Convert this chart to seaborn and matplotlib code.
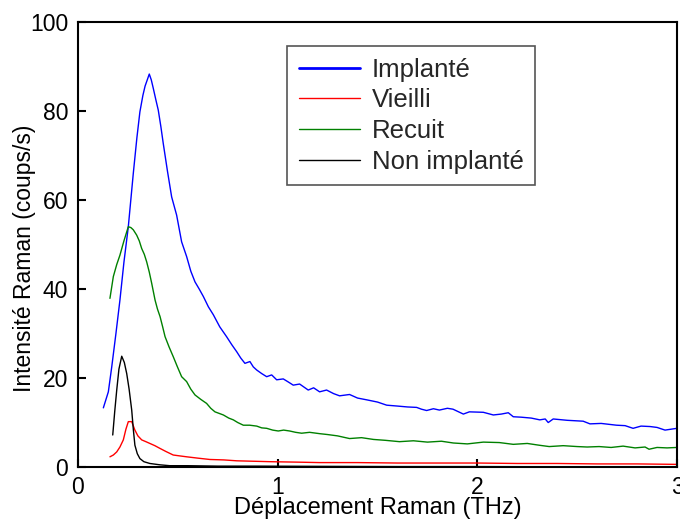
import numpy as np
import pandas as pd
import matplotlib
matplotlib.use("Agg")
import matplotlib.pyplot as plt
import seaborn as sns

# Raman spectra (THz, counts/s)
implante_x = [0.127, 0.152, 0.169, 0.19, 0.21, 0.23, 0.252, 0.277, 0.295, 0.31, 0.325, 0.336, 0.347,
              0.357, 0.367, 0.377, 0.39, 0.402, 0.415, 0.427, 0.448, 0.469, 0.494, 0.519, 0.544, 0.565,
              0.586, 0.607, 0.628, 0.653, 0.678, 0.71, 0.744, 0.77, 0.795, 0.815, 0.836, 0.861, 0.878,
              0.895, 0.92, 0.945, 0.97, 0.995, 1.028, 1.05, 1.078, 1.11, 1.153, 1.18, 1.21, 1.245, 1.28,
              1.31, 1.36, 1.40, 1.446, 1.5, 1.546, 1.6, 1.65, 1.696, 1.72, 1.746, 1.78, 1.81, 1.85, 1.878,
              1.93, 1.96, 2.03, 2.08, 2.12, 2.155, 2.18, 2.22, 2.27, 2.313, 2.34, 2.355, 2.38, 2.45, 2.53,
              2.564, 2.62, 2.697, 2.74, 2.78, 2.82, 2.865, 2.9, 2.94, 3.0]
implante_y = [13.3, 16.9, 22.5, 30, 37.5, 46, 54, 66, 74, 79.8, 83.5, 85.6, 87, 88.3, 87, 85.1, 82.5,
              80.2, 76.5, 72.7, 66.5, 60.7, 56.6, 50.6, 47.3, 44, 41.6, 40, 38.3, 36, 34.2, 31.5, 29.3,
              27.5, 25.9, 24.5, 23.3, 23.7, 22.5, 21.8, 21, 20.3, 20.7, 19.6, 19.8, 19.2, 18.4, 18.65,
              17.3, 17.8, 16.9, 17.3, 16.5, 16, 16.3, 15.5, 15.1, 14.6, 13.9, 13.7, 13.5, 13.4, 13.0,
              12.7, 13.1, 12.8, 13.2, 13.0, 11.9, 12.4, 12.3, 11.7, 11.9, 12.2, 11.3, 11.2, 11.0, 10.6,
              10.8, 10.0, 10.8, 10.5, 10.3, 9.7, 9.8, 9.4, 9.3, 8.7, 9.2, 9.1, 8.9, 8.3, 8.7]

vieilli_x = [0.16, 0.177, 0.194, 0.21, 0.227, 0.24, 0.252, 0.269, 0.285, 0.3, 0.319, 0.34, 0.36, 0.385,
             0.41, 0.44, 0.477, 0.51, 0.544, 0.6, 0.66, 0.73, 0.795, 0.88, 0.965, 1.1, 1.21, 1.4, 1.6,
             1.8, 2.0, 2.2, 2.4, 2.6, 2.8, 3.0]
vieilli_y = [2.3, 2.7, 3.4, 4.5, 6.1, 8.5, 10.2, 10.2, 8.3, 7.0, 6.1, 5.7, 5.3, 4.8, 4.2, 3.5, 2.7, 2.5,
             2.3, 2.0, 1.7, 1.6, 1.4, 1.3, 1.2, 1.1, 1.0, 1.0, 0.9, 0.9, 0.9, 0.8, 0.8, 0.7, 0.7, 0.6]

recuit_x = [0.16, 0.177, 0.194, 0.21, 0.23, 0.252, 0.265, 0.277, 0.294, 0.307, 0.319, 0.332, 0.344,
            0.357, 0.369, 0.386, 0.398, 0.411, 0.424, 0.436, 0.456, 0.477, 0.498, 0.519, 0.544, 0.565,
            0.586, 0.615, 0.644, 0.665, 0.686, 0.71, 0.728, 0.755, 0.778, 0.8, 0.828, 0.86, 0.895, 0.92,
            0.945, 0.975, 1.003, 1.03, 1.06, 1.09, 1.12, 1.16, 1.21, 1.25, 1.3, 1.36, 1.42, 1.48, 1.54,
            1.61, 1.68, 1.75, 1.82, 1.88, 1.95, 2.03, 2.11, 2.18, 2.25, 2.31, 2.36, 2.43, 2.5, 2.55,
            2.61, 2.67, 2.73, 2.79, 2.84, 2.86, 2.9, 2.95, 3.0]
recuit_y = [37.9, 42.8, 45.5, 47.6, 50.8, 54, 53.8, 53.3, 52.1, 50.8, 49.1, 47.8, 46.1, 43.8, 41.3,
            37.5, 35.5, 33.8, 31.5, 29.3, 27, 24.8, 22.5, 20.3, 19.2, 17.5, 16.2, 15.2, 14.3, 13.2,
            12.4, 12, 11.7, 11, 10.6, 10, 9.4, 9.4, 9.2, 8.8, 8.7, 8.3, 8.1, 8.3, 8.1, 7.8, 7.6, 7.8,
            7.5, 7.3, 7.0, 6.4, 6.6, 6.2, 6.0, 5.7, 5.9, 5.6, 5.8, 5.4, 5.2, 5.6, 5.5, 5.1, 5.3, 4.9,
            4.6, 4.8, 4.6, 4.5, 4.6, 4.4, 4.7, 4.3, 4.5, 4.0, 4.4, 4.3, 4.4]

non_implante_x = [0.174, 0.184, 0.194, 0.205, 0.219, 0.232, 0.244, 0.256, 0.269, 0.277, 0.285, 0.297,
                  0.31, 0.33, 0.36, 0.41, 0.46, 0.55, 0.7, 0.9, 1.2, 1.6, 2.0, 2.5, 3.0]
non_implante_y = [7.2, 12.5, 17.3, 22, 24.9, 23.5, 21, 17.5, 12.8, 8.5, 4.9, 3.0, 1.9, 1.2, 0.8, 0.5,
                  0.3, 0.3, 0.2, 0.2, 0.15, 0.1, 0.1, 0.05, 0.0]

series_names = ["Implanté", "Vieilli", "Recuit", "Non implanté"]
series_colors = ["#0000ff", "#ff0000", "#008000", "#000000"]
x_ticks = [0, 1, 2, 3]
y_ticks = [0, 20, 40, 60, 80, 100]

frames = []
for name, xs, ys in zip(series_names,
                        [implante_x, vieilli_x, recuit_x, non_implante_x],
                        [implante_y, vieilli_y, recuit_y, non_implante_y]):
    frames.append(pd.DataFrame({"shift": xs, "intensity": ys, "sample": name}))
df = pd.concat(frames, ignore_index=True)

sns.set_theme(style="white")
plt.rcParams["font.family"] = ["Liberation Sans", "DejaVu Sans"]

fig = plt.figure(figsize=(6.8, 5.23), dpi=100)
ax = fig.add_axes([0.1147, 0.107, 0.8809, 0.851])

sns.lineplot(data=df, x="shift", y="intensity", hue="sample", hue_order=series_names,
             palette=dict(zip(series_names, series_colors)), estimator=None, sort=False,
             linewidth=1.0, ax=ax)

ax.set_xlim(0, 3)
ax.set_ylim(0, 100)
ax.set_xticks(x_ticks)
ax.set_yticks(y_ticks)
ax.set_xticklabels([str(t) for t in x_ticks])
ax.set_yticklabels([str(t) for t in y_ticks])
ax.tick_params(axis="both", direction="in", length=6, width=1.5, color="black",
               labelsize=16.5, labelcolor="black")
ax.tick_params(axis="x", pad=6.5)
ax.tick_params(axis="y", pad=7)
ax.tick_params(bottom=True, left=True, top=False, right=False)

for side in ["left", "right", "top", "bottom"]:
    ax.spines[side].set_visible(True)
    ax.spines[side].set_color("black")
    ax.spines[side].set_linewidth(1.5)

ax.set_xlabel("Déplacement Raman (THz)", fontsize=17, color="black")
ax.set_ylabel("Intensité Raman (coups/s)", fontsize=16.5, color="black")
ax.xaxis.set_label_coords(0.5, -0.068)
ax.yaxis.set_label_coords(-0.07, 0.47)

leg = ax.legend(loc="upper left", bbox_to_anchor=(0.349, 0.946), fontsize=18.5,
                frameon=True, fancybox=False, edgecolor="#555555", framealpha=1,
                handlelength=2.4, handletextpad=0.45, labelspacing=0.26,
                borderpad=0.45, borderaxespad=0)
leg.get_frame().set_linewidth(1.2)
leg.get_lines()[0].set_linewidth(2.0)

fig.savefig("out.png", dpi=100)
